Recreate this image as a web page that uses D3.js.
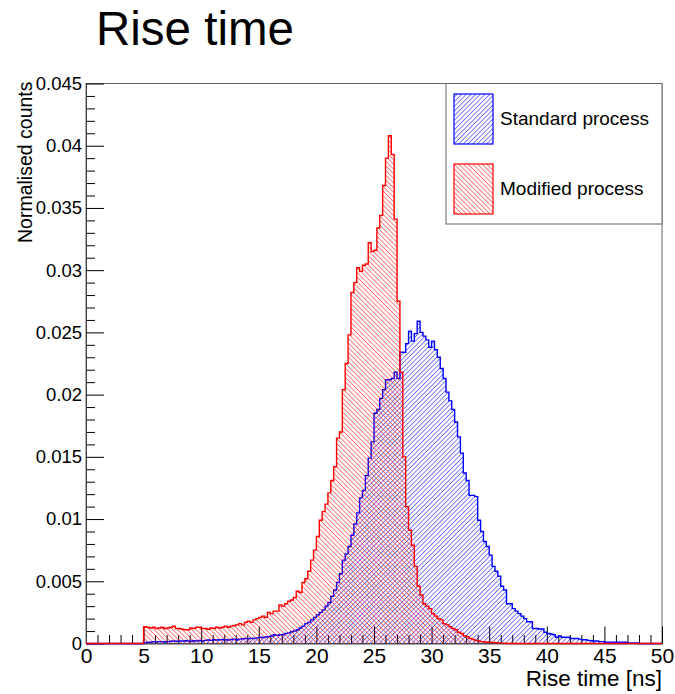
<!DOCTYPE html>
<html>
<head>
<meta charset="utf-8">
<script src="https://cdn.jsdelivr.net/npm/d3@7"></script>
<style>
  body { margin: 0; background: #fff; }
  svg { display: block; font-family: "Liberation Sans", Arial, sans-serif; }
</style>
</head>
<body>
<div id="chart"></div>
<script>
const W = 675, H = 694;
const margin = { top: 83.5, bottom: 50.5, left: 86, right: 13 };

// histogram binning (ns)
const binWidth = 0.25;
const modStart = 5;
const stdStart = 5;

// Modified process, normalised counts per bin starting at 5 ns
const modified = [
  .00135, .0013, .00125, .0013,
  .0012, .00125, .0013, .0012,
  .00125, .0013, .0014, .0012,
  .0012, .00115, .0011, .0011,
  .00125, .0012, .0013, .0013,
  .0012, .0012, .00115, .00125,
  .0012, .0013, .00125, .0013,
  .0014, .0013, .0014, .00145,
  .0015, .0016, .0015, .0017,
  .0018, .0017, .0019, .002,
  .0021, .0022, .0021, .0025,
  .0024, .0026, .0026, .0031,
  .003, .0032, .0034, .0035,
  .0037, .0042, .0041, .0049,
  .0052, .0058, .0067, .0075,
  .0086, .0099, .0106, .0112,
  .0121, .0131, .0142, .0165,
  .017, .0204, .0225, .0248,
  .0282, .029, .0302, .0299,
  .0304, .0305, .0322, .0315,
  .0316, .0334, .0344, .0368,
  .039, .0408, .0393, .0341,
  .0275, .0218, .015, .011,
  .0091, .0079, .0062, .0046,
  .0039, .0032, .003, .0028,
  .0024, .0022, .002, .0019,
  .0016, .0015, .00135, .0012,
  .0011, .0009, .0008, .0006,
  .00055, .0004, .00033, .00025,
  .0002, .00015, .00012, .0001,
  .0001, .00008, .00006, .00005,
  .00003, .00002
];

// Standard process, normalised counts per bin starting at 5 ns
const standard = [
  .00005, .0001, .0001, .00015,
  .00012, .00015, .00015, .00012,
  .00015, .00018, .0002, .00018,
  .0002, .0002, .00022, .0002,
  .00018, .00022, .0002, .00025,
  .0002, .00025, .00028, .00025,
  .0003, .00028, .0003, .00032,
  .0003, .00028, .00032, .00035,
  .0003, .00035, .00038, .0004,
  .00038, .00042, .0004, .00045,
  .0005, .00048, .00052, .00055,
  .0006, .0007, .00065, .0007,
  .00072, .0008, .00085, .00095,
  .001, .0011, .00125, .0014,
  .0016, .0017, .0019, .0021,
  .0023, .0025, .0027, .003,
  .0033, .0038, .0043, .0049,
  .0056, .0067, .0072, .0078,
  .0087, .0096, .0105, .0117,
  .0123, .0135, .0149, .0162,
  .0185, .0188, .0197, .0204,
  .0212, .0212, .0213, .0218,
  .0213, .0234, .0234, .0241,
  .0251, .0243, .0249, .0259,
  .025, .0247, .0244, .0238,
  .0243, .0236, .023, .0221,
  .0213, .0202, .0195, .0188,
  .0178, .0166, .0153, .0137,
  .0131, .0119, .0119, .0118,
  .0099, .009, .0082, .0078,
  .0071, .0062, .0058, .0054,
  .0046, .0043, .0032, .0032,
  .0028, .0026, .0024, .0022,
  .002, .00175, .00175, .0012,
  .0012, .00116, .00116, .0009,
  .0008, .00076, .0007, .0005,
  .0006, .0005, .0005, .0005,
  .0004, .0004, .0004, .00035,
  .0003, .0003, .00025, .00022,
  .0002, .0002, .00015, .00015,
  .0001, .0001, .0001, .0001,
  .0001, .0001, .0001, .0001,
  .00005, .00005, .00005, .00005
];

const xMajor = [0, 5, 10, 15, 20, 25, 30, 35, 40, 45, 50];
const yMajor = [0, 0.005, 0.01, 0.015, 0.02, 0.025, 0.03, 0.035, 0.04, 0.045];
const yLabels = ["0", "0.005", "0.01", "0.015", "0.02", "0.025", "0.03", "0.035", "0.04", "0.045"];
const legendNames = ["Standard process", "Modified process"];

var svg = d3.select("#chart").append("svg")
  .attr("width", W)
  .attr("height", H);

var x = d3.scaleLinear().domain([0, 50]).range([margin.left, W - margin.right]);
var y = d3.scaleLinear().domain([0, 0.045]).range([H - margin.bottom, margin.top]);

// hatch patterns (ROOT 3004 "/" and 3005 "\"), thin rotated stripes
var defs = svg.append("defs");
function hatch(id, color, angle) {
  var p = defs.append("pattern")
    .attr("id", id)
    .attr("patternUnits", "userSpaceOnUse")
    .attr("width", 3.3).attr("height", 10)
    .attr("patternTransform", `rotate(${angle})`);
  p.append("rect")
    .attr("x", 0).attr("y", 0)
    .attr("width", 0.85).attr("height", 10)
    .style("fill", color)
    .style("fill-opacity", 0.58);
}
hatch("hatchBlue", "#0000ff", 45);
hatch("hatchRed", "#ff0000", -45);

// frame
svg.append("rect")
  .attr("x", x(0)).attr("y", y(0.045))
  .attr("width", x(50) - x(0)).attr("height", y(0) - y(0.045))
  .attr("fill", "none").attr("stroke", "#666").attr("stroke-width", 1);

// x axis
var xMinorTicks = d3.range(0, 51).filter(d => d % 5 !== 0);
svg.append("g")
  .attr("transform", `translate(0,${y(0)})`)
  .call(d3.axisBottom(x).tickValues(xMinorTicks).tickSize(-8.5).tickSizeOuter(0).tickFormat(""))
  .call(g => g.select(".domain").remove());
var xAxis = svg.append("g")
  .attr("transform", `translate(0,${y(0)})`)
  .call(d3.axisBottom(x).tickValues(xMajor).tickSize(-17).tickSizeOuter(0).tickPadding(5).tickFormat(d3.format("d")));
xAxis.select(".domain").attr("stroke", "#444");
xAxis.selectAll("text").attr("font-size", "21px").attr("fill", "#000");

// y axis
var yMinorTicks = d3.range(0, 46).filter(d => d % 5 !== 0).map(d => d / 1000);
svg.append("g")
  .attr("transform", `translate(${x(0)},0)`)
  .call(d3.axisLeft(y).tickValues(yMinorTicks).tickSize(-9).tickSizeOuter(0).tickFormat(""))
  .call(g => g.select(".domain").remove());
var yAxis = svg.append("g")
  .attr("transform", `translate(${x(0)},0)`)
  .call(d3.axisLeft(y).tickValues(yMajor).tickSize(-18).tickSizeOuter(0).tickPadding(4)
    .tickFormat((d, i) => yLabels[i]));
yAxis.select(".domain").attr("stroke", "#444");
yAxis.selectAll("text").attr("font-size", "18.5px").attr("fill", "#000");

// axis titles
svg.append("text")
  .attr("x", x(50)).attr("y", 686)
  .attr("text-anchor", "end")
  .attr("font-size", "22.5px")
  .text("Rise time [ns]");

svg.append("text")
  .attr("transform", `translate(32,${y(0.045) - 2}) rotate(-90)`)
  .attr("text-anchor", "end")
  .attr("font-size", "19.5px")
  .text("Normalised counts");

// title
svg.append("text")
  .attr("x", 96).attr("y", 45)
  .attr("font-size", "47.5px")
  .text("Rise time");

// histograms
function stepPath(vals, start) {
  var p = d3.path();
  p.moveTo(x(0), y(0));
  p.lineTo(x(start), y(0));
  vals.forEach((v, i) => {
    var lo = start + i * binWidth;
    p.lineTo(x(lo), y(v));
    p.lineTo(x(lo + binWidth), y(v));
  });
  var end = start + vals.length * binWidth;
  p.lineTo(x(end), y(0));
  p.lineTo(x(50), y(0));
  return p.toString();
}

function drawHist(vals, start, color, pat) {
  var d = stepPath(vals, start);
  svg.append("path")
    .attr("d", d + "Z")
    .style("fill", `url(#${pat})`)
    .attr("stroke", "none");
  svg.append("path")
    .attr("d", d)
    .attr("fill", "none")
    .attr("stroke", color)
    .attr("stroke-width", 1.4);
}

drawHist(standard, stdStart, "#0000ff", "hatchBlue");
drawHist(modified, modStart, "#ff0000", "hatchRed");

// legend
var leg = svg.append("g");
leg.append("rect")
  .attr("x", 446).attr("y", y(0.045))
  .attr("width", x(50) - 446).attr("height", 224 - y(0.045))
  .attr("fill", "#fff").attr("stroke", "#666").attr("stroke-width", 1);

var legColors = ["#0000ff", "#ff0000"];
var legPats = ["hatchBlue", "hatchRed"];
var legY = [94, 164];
legendNames.forEach((name, i) => {
  leg.append("rect")
    .attr("x", 454).attr("y", legY[i])
    .attr("width", 39).attr("height", 50)
    .style("fill", `url(#${legPats[i]})`)
    .attr("stroke", legColors[i]).attr("stroke-width", 1.2);
  leg.append("text")
    .attr("x", 500).attr("y", legY[i] + 31)
    .attr("font-size", "19px")
    .text(name);
});
</script>
</body>
</html>
